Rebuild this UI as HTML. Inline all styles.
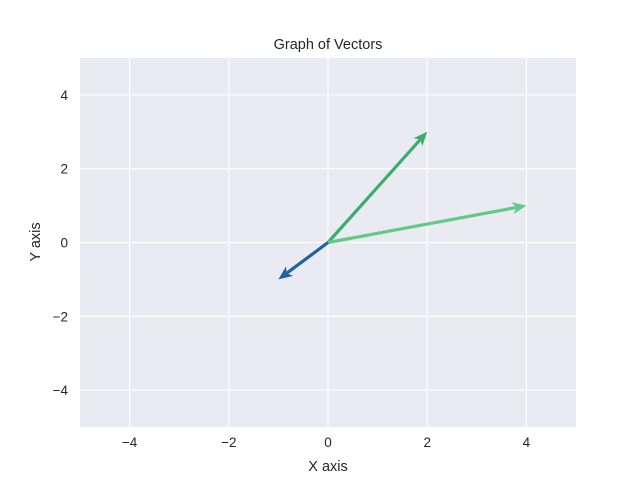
<!DOCTYPE html>
<html><head><meta charset="utf-8"><style>
body{margin:0;background:#fff;}
svg{display:block;font-family:"Liberation Sans","DejaVu Sans",sans-serif;}
</style></head><body>
<svg id="chart" width="640" height="480">
<rect x="80" y="58" width="496" height="369" fill="#eaeaf2"/>
<g id="grid"></g><g id="ticks"></g><g id="vecs"></g>
<text x="328" y="49" text-anchor="middle" font-size="14.5" fill="#262626">Graph of Vectors</text>
<text x="328" y="471" text-anchor="middle" font-size="14.5" fill="#262626">X axis</text>
<text x="40" y="242" text-anchor="middle" font-size="14.5" fill="#262626" transform="rotate(-90 40 242)">Y axis</text>
</svg>
<script>
const xTicks=[-4,-2,0,2,4];
const yTicks=[-4,-2,0,2,4];
const vecX=[2,4,-1];
const vecY=[3,1,-1];
const vecColors=["#3aae6a","#62c987","#1f64a0"];
const vecNames=["vector-2-3","vector-4-1","vector-neg1-neg1"];
const NS="http://www.w3.org/2000/svg";
const X0=80,X1=576,Y0=58,Y1=427;
const sx=v=>X0+(v+5)/10*(X1-X0);
const sy=v=>Y1-(v+5)/10*(Y1-Y0);
function mk(t,a,p){const e=document.createElementNS(NS,t);for(const k in a)e.setAttribute(k,a[k]);p.appendChild(e);return e;}
const g=document.getElementById('grid'),tk=document.getElementById('ticks'),vg=document.getElementById('vecs');
xTicks.forEach(v=>{
 const l=mk('line',{x1:sx(v),x2:sx(v),y1:Y0,y2:Y1,stroke:'#fff','stroke-width':1.1},g);
 
 
 const t=mk('text',{x:sx(v),y:Y1+20,'text-anchor':'middle','font-size':13.5,fill:'#262626'},tk);
 t.textContent=(v<0?'\u2212':'')+Math.abs(v);
 
 
});
yTicks.forEach(v=>{
 const l=mk('line',{x1:X0,x2:X1,y1:sy(v),y2:sy(v),stroke:'#fff','stroke-width':1.1},g);
 
 
 const t=mk('text',{x:X0-12,y:sy(v)+5,'text-anchor':'end','font-size':13.5,fill:'#262626'},tk);
 t.textContent=(v<0?'\u2212':'')+Math.abs(v);
 
 
});
vecX.forEach((vx,i)=>{
 const x0=sx(0),y0=sy(0),x1=sx(vx),y1=sy(vecY[i]);
 const dx=x1-x0,dy=y1-y0,L=Math.hypot(dx,dy),ux=dx/L,uy=dy/L,px=-uy,py=ux;
 const hl=14,hw=6,sw=1.6;
 const bx=x1-ux*hl,by=y1-uy*hl,ix=x1-ux*hl*0.8,iy=y1-uy*hl*0.8;
 const pts=[[x0+px*sw,y0+py*sw],[ix+px*sw,iy+py*sw],[bx+px*hw,by+py*hw],[x1,y1],[bx-px*hw,by-py*hw],[ix-px*sw,iy-py*sw],[x0-px*sw,y0-py*sw]];
 const p=mk('polygon',{points:pts.map(q=>q.join(',')).join(' '),fill:vecColors[i]},vg);
 
 
});
</script>
</body></html>
